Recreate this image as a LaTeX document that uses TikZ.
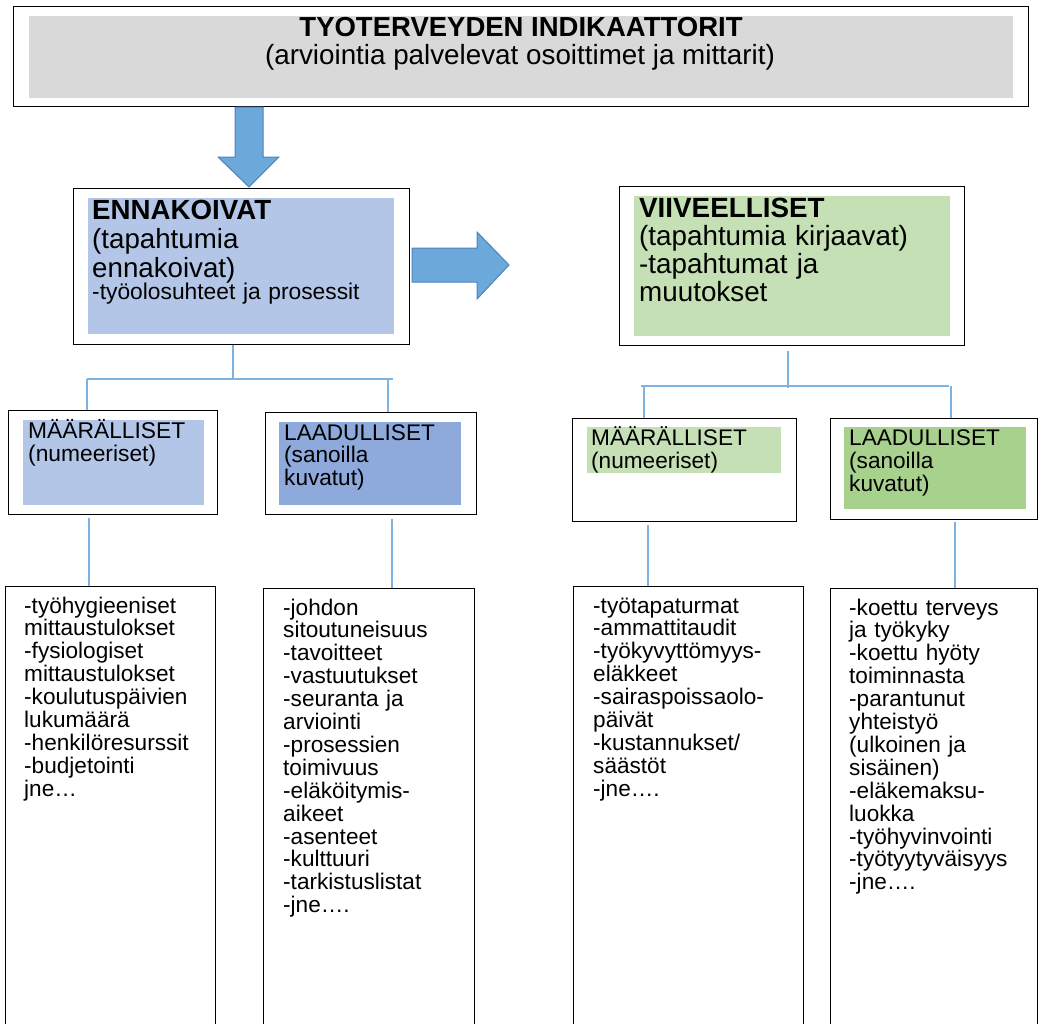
\documentclass[tikz,border=0pt]{standalone}
\usepackage{fontspec}
\setmainfont{Liberation Sans}
\definecolor{topgray}{HTML}{D9D9D9}
\definecolor{bluelight}{HTML}{B4C6E7}
\definecolor{bluedark}{HTML}{8EA9DB}
\definecolor{greenlight}{HTML}{C5E0B4}
\definecolor{greendark}{HTML}{A9D18E}
\definecolor{arrowfill}{HTML}{6CA9DB}
\definecolor{arrowdraw}{HTML}{4F81BD}
\definecolor{connblue}{HTML}{7DB2E3}
\newcommand{\fTitle}{\fontsize{27.5}{29}\selectfont\bfseries}
\newcommand{\fSubt}{\fontsize{27.8}{29}\selectfont}
\newcommand{\fBig}{\fontsize{27.7}{29}\selectfont}
\newcommand{\fVii}{\fontsize{27.8}{28.3}\selectfont}
\newcommand{\fMid}{\fontsize{22.8}{23.5}\selectfont}
\newcommand{\fSmallA}{\fontsize{22.6}{22.5}\selectfont}
\newcommand{\fSmallB}{\fontsize{22.6}{23}\selectfont}
\newcommand{\fList}{\fontsize{22.6}{22.9}\selectfont}
\tikzset{
  outerbox/.style={draw=black, line width=1.4pt, fill=white, inner sep=0pt, anchor=north west},
  shadebox/.style={inner sep=0pt, anchor=north west},
  txt/.style={inner sep=0pt, anchor=base west, align=left, text width=330pt},
  conn/.style={draw=connblue, line width=1.1pt},
  bigarrow/.style={fill=arrowfill, draw=arrowdraw, line width=1pt, line join=miter}
}
\begin{document}
\begin{tikzpicture}[x=1pt, y=-1pt]
\useasboundingbox (0,0) rectangle (1039,1023);
\clip (0,0) rectangle (1039,1023);

% top box
\node[outerbox, minimum width=1015pt, minimum height=100pt] (top) at (13,6) {};
\node[shadebox, fill=topgray, minimum width=984pt, minimum height=82pt] (topfill) at (29,16) {};
\node[inner sep=0pt, anchor=base, font=\fTitle] (title) at (521,36) {TYOTERVEYDEN INDIKAATTORIT};
\node[inner sep=0pt, anchor=base, font=\fSubt] (subtitle) at (520,64) {(arviointia palvelevat osoittimet ja mittarit)};

% down arrow
\draw[bigarrow] (235,107) -- (263,107) -- (263,157) -- (279,157) -- (249,187) -- (218,157) -- (235,157) -- cycle;

% ENNAKOIVAT
\node[outerbox, minimum width=336pt, minimum height=156pt] (enn) at (73,188) {};
\node[shadebox, fill=bluelight, minimum width=306pt, minimum height=136pt] (ennfill) at (88,198) {};
\node[txt, font=\fBig] (enntext) at (92,219) {\textbf{ENNAKOIVAT}\\(tapahtumia\\ennakoivat)};
\node[txt, font=\fMid] (ennsub) at (92,299) {-työolosuhteet ja prosessit};

% right arrow
\draw[bigarrow] (412,248) -- (477,248) -- (477,232) -- (509,265) -- (477,299) -- (477,282) -- (412,282) -- cycle;

% VIIVEELLISET
\node[outerbox, minimum width=345pt, minimum height=159pt] (vii) at (619,186) {};
\node[shadebox, fill=greenlight, minimum width=316pt, minimum height=140pt] (viifill) at (634,196) {};
\node[txt, font=\fVii] (viitext) at (639,217) {\textbf{VIIVEELLISET}\\(tapahtumia kirjaavat)\\-tapahtumat ja\\muutokset};

% second level boxes
\node[outerbox, minimum width=209pt, minimum height=104pt] (lm) at (8,410) {};
\node[shadebox, fill=bluelight, minimum width=181pt, minimum height=85pt] (lmfill) at (23,420) {};
\node[txt, font=\fMid] (lmtext) at (28,438) {MÄÄRÄLLISET\\(numeeriset)};

\node[outerbox, minimum width=211pt, minimum height=102pt] (ll) at (265,412) {};
\node[shadebox, fill=bluedark, minimum width=182pt, minimum height=83pt] (llfill) at (279,422) {};
\node[txt, font=\fSmallA] (lltext) at (284,440) {LAADULLISET\\(sanoilla\\kuvatut)};

\node[outerbox, minimum width=224pt, minimum height=103pt] (rm) at (572,418) {};
\node[shadebox, fill=greenlight, minimum width=194pt, minimum height=46pt] (rmfill) at (587,427) {};
\node[txt, font=\fSmallB] (rmtext) at (591,445) {MÄÄRÄLLISET\\(numeeriset)};

\node[outerbox, minimum width=207pt, minimum height=101pt] (rl) at (830,418) {};
\node[shadebox, fill=greendark, minimum width=182pt, minimum height=82pt] (rlfill) at (844,427) {};
\node[txt, font=\fSmallB] (rltext) at (849,445) {LAADULLISET\\(sanoilla\\kuvatut)};

% list boxes
\node[outerbox, minimum width=210pt, minimum height=450pt] (l1) at (5,586) {};
\node[txt, font=\fList] (l1text) at (24,613) {-työhygieeniset\\mittaustulokset\\-fysiologiset\\mittaustulokset\\-koulutuspäivien\\lukumäärä\\-henkilöresurssit\\-budjetointi\\jne…};

\node[outerbox, minimum width=211pt, minimum height=450pt] (l2) at (263,588) {};
\node[txt, font=\fList] (l2text) at (283,615) {-johdon\\sitoutuneisuus\\-tavoitteet\\-vastuutukset\\-seuranta ja\\arviointi\\-prosessien\\toimivuus\\-eläköitymis-\\aikeet\\-asenteet\\-kulttuuri\\-tarkistuslistat\\-jne….};

\node[outerbox, minimum width=230pt, minimum height=450pt] (r1) at (573,586) {};
\node[txt, font=\fList] (r1text) at (593,613) {-työtapaturmat\\-ammattitaudit\\-työkyvyttömyys-\\eläkkeet\\-sairaspoissaolo-\\päivät\\-kustannukset/\\säästöt\\-jne….};

\node[outerbox, minimum width=207pt, minimum height=450pt] (r2) at (830,588) {};
\node[txt, font=\fList] (r2text) at (849,615) {-koettu terveys\\ja työkyky\\-koettu hyöty\\toiminnasta\\-parantunut\\yhteistyö\\(ulkoinen ja\\sisäinen)\\-eläkemaksu-\\luokka\\-työhyvinvointi\\-työtyytyväisyys\\-jne….};

% connectors left
\coordinate (eJ) at (233,379);
\coordinate (eHL) at (87,379);
\coordinate (eHR) at (393,379);
\coordinate (eDR) at (388,379);
\draw[conn] (enn.south -| eJ) -- (eJ);
\draw[conn] (eHL) -- (eHR);
\draw[conn] (eHL) -- (eHL |- lm.north);
\draw[conn] (eDR) -- (eDR |- ll.north);

% connectors right
\coordinate (vJ) at (788,351);
\coordinate (vM) at (788,388);
\coordinate (vHL) at (641,386);
\coordinate (vHR) at (949,386);
\coordinate (vDL) at (644,386);
\coordinate (vDR) at (951,386);
\draw[conn] (vJ) -- (vM);
\draw[conn] (vHL) -- (vHR);
\draw[conn] (vDL) -- (vDL |- rm.north);
\draw[conn] (vDR) -- (vDR |- rl.north);

% connectors to lists
\coordinate (d1) at (89,518);
\coordinate (d2) at (392,519);
\coordinate (d3) at (648,525);
\coordinate (d4) at (955,522);
\draw[conn] (d1) -- (d1 |- l1.north);
\draw[conn] (d2) -- (d2 |- l2.north);
\draw[conn] (d3) -- (d3 |- r1.north);
\draw[conn] (d4) -- (d4 |- r2.north);
\end{tikzpicture}
\end{document}
